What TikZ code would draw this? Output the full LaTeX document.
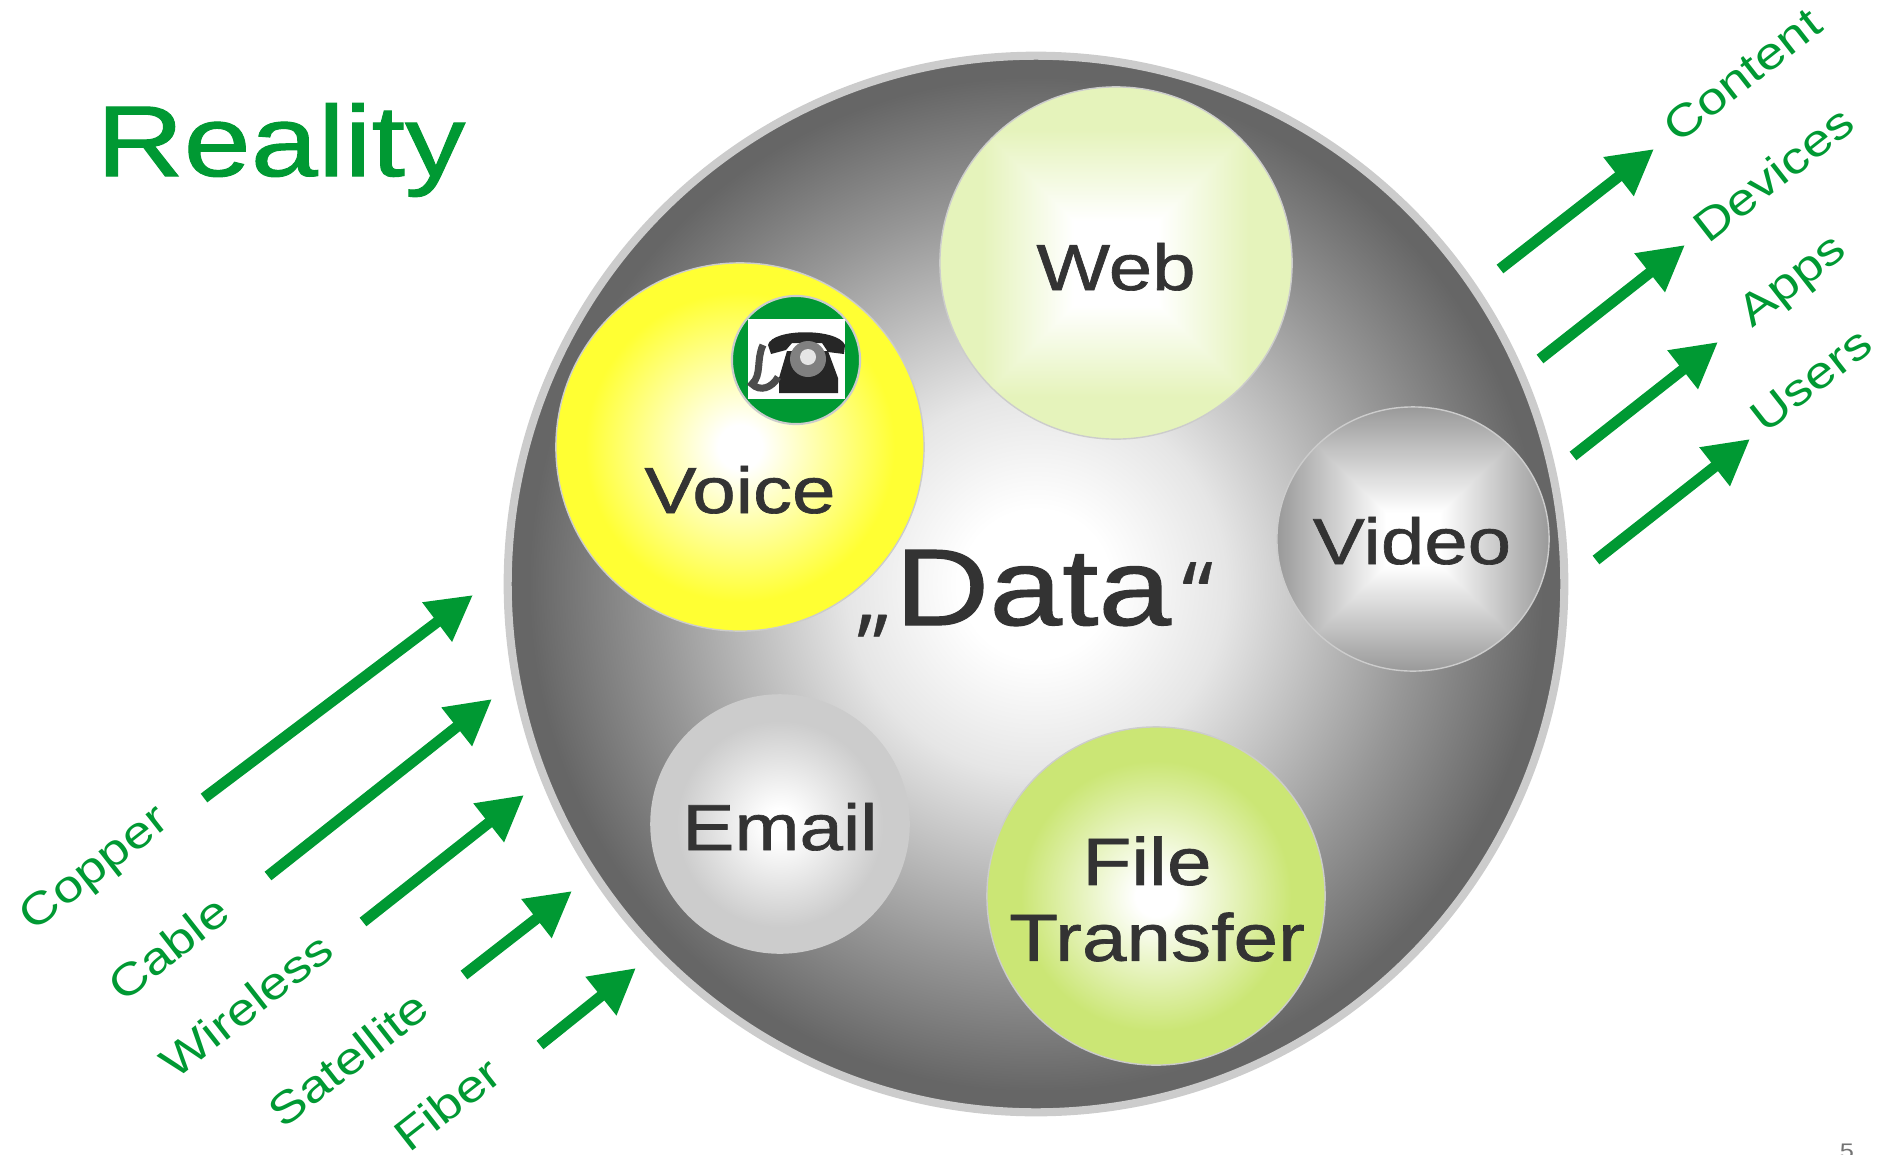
\documentclass[tikz,border=0pt]{standalone}
\usepackage{fontspec}
\usetikzlibrary{arrows.meta,shapes.geometric}
\setmainfont[FakeStretch=1.2]{Liberation Sans}
\newfontfamily\labelfont[FakeStretch=1.2,FakeBold=1]{Liberation Sans}
\newfontfamily\quotefont[FakeBold=0.5]{Open Sans}

\definecolor{flowgreen}{HTML}{009933}
\definecolor{inktext}{HTML}{333333}
\definecolor{rimgrey}{HTML}{CCCCCC}
\definecolor{webgreen}{HTML}{E5F3BB}
\definecolor{filegreen}{HTML}{CBE675}
\definecolor{voiceyellow}{HTML}{FFFF33}

% the path fills the inner 50bp of a shading
\pgfdeclarefunctionalshading{webshade}{\pgfpoint{-50bp}{-50bp}}{\pgfpoint{50bp}{50bp}}{}{
  abs exch abs 2 copy lt {exch} if pop
  6 sub 13 div dup 1 gt {pop 1} if dup 0 lt {pop 0} if
  dup 0.102 mul 1 exch sub exch dup 0.047 mul 1 exch sub exch 0.267 mul 1 exch sub}
\pgfdeclarefunctionalshading{videoshade}{\pgfpoint{-50bp}{-50bp}}{\pgfpoint{50bp}{50bp}}{}{
  abs exch abs 2 copy lt {exch} if pop
  5 sub 20 div dup 1 gt {pop 1} if dup 0 lt {pop 0} if
  0.4 mul 1 exch sub dup dup}
\pgfdeclareradialshading{voiceshade}{\pgfpointorigin}{color(0bp)=(white); color(3bp)=(white); color(21bp)=(voiceyellow); color(50bp)=(voiceyellow)}
\pgfdeclareradialshading{emailshade}{\pgfpointorigin}{color(0bp)=(white); color(3bp)=(white); color(20bp)=(black!20); color(50bp)=(black!20)}
\pgfdeclareradialshading{fileshade}{\pgfpointorigin}{color(0bp)=(white); color(3bp)=(white); color(20bp)=(filegreen); color(50bp)=(filegreen)}
\pgfdeclareradialshading{datashade}{\pgfpointorigin}{color(0bp)=(white); color(3.5bp)=(white); color(9bp)=(black!10); color(12.5bp)=(black!22); color(18bp)=(black!41); color(24bp)=(black!60); color(50bp)=(black!60)}

\tikzset{
 bubble/.style={circle,draw=rimgrey,line width=0.4pt,inner sep=0pt},
 bubbletext/.style={anchor=base,text=inktext,font=\labelfont\fontsize{18.5}{21.6}\selectfont,align=center},
 flow/.style={draw=flowgreen,line width=3.1pt,-{Triangle[length=12.8pt,width=13.2pt]}},
 flowtext/.style={text=flowgreen,rotate=38,font=\fontsize{12.6}{15}\selectfont,inner sep=0pt}
}

\begin{document}
\begin{tikzpicture}[x=0.01cm,y=-0.01cm]
 \useasboundingbox (0,0) rectangle (1881,1154);

 % the big disc and what sits on it
 \node[circle,draw=rimgrey,line width=2.3pt,inner sep=0pt,minimum size=10.56cm,shading=datashade] (data) at (1036,584) {};
 \node[bubble,minimum size=3.52cm,shading=webshade] (web) at (1116,263) {};
 \node[bubble,minimum size=3.68cm,shading=voiceshade] (voice) at (740,447) {};
 \node[bubble,shape=ellipse,minimum width=2.72cm,minimum height=2.64cm,shading=videoshade] (video) at (1413,539) {};
 \node[bubble,minimum size=2.58cm,shading=emailshade] (email) at (780,824) {};
 \node[bubble,minimum size=3.38cm,shading=fileshade] (file) at (1156,896) {};

 \node[bubbletext] (weblabel) at (1116,290) {Web};
 \node[bubbletext] (voicelabel) at (740,513) {Voice};
 \node[bubbletext] (videolabel) at (1412,564) {Video};
 \node[bubbletext] (emaillabel) at (780,850) {Email};
 \node[bubbletext,anchor=center,font=\labelfont\fontsize{19}{21.6}\selectfont] (filelabel) at (1157,899) {File\hspace*{0.3em}\\Transfer};
 \node[anchor=base,text=inktext,font=\labelfont\fontsize{31}{36}\selectfont] (datalabel) at (1035,625) {{\quotefont\fontsize{25}{30}\selectfont „}\hspace{0.02em}Data\hspace{0.1em}{\quotefont\fontsize{25}{30}\selectfont “}};

 % telephone badge
 \node[circle,draw=rimgrey,line width=0.6pt,fill=flowgreen,inner sep=0pt,minimum size=1.28cm] (badge) at (796,360) {};
 \fill[white] (748,319) rectangle (845,399);
 \fill[black!85] (768,345) .. controls (772,328) and (838,328) .. (845,345) -- (844,354) -- (828,352) -- (822,343) -- (792,343) -- (786,350) -- (771,354) -- cycle;
 \fill[black!85] (787,351) -- (828,351) -- (838,378) -- (838,393) -- (779,393) -- (779,378) -- cycle;
 \fill[black!50] (808,359) circle (18);
 \fill[black!10] (808,357) circle (8);
 \draw[black!70,line width=2pt] (763,345) .. controls (756,360) and (762,375) .. (752,384) .. controls (760,392) and (772,388) .. (778,377);

 % big title and page number
 \node[anchor=base,text=flowgreen,font=\labelfont\fontsize{28.6}{34}\selectfont] (title) at (281,176) {Reality};
 \node[anchor=base,text=black!55,font=\fontsize{6}{7}\selectfont] (pagenum) at (1847,1158) {5};

 % flows in and out
 \foreach \name/\xa/\ya/\xb/\yb/\xc/\yc/\txt in {
   copper/204/798/473/595/96/870/Copper,
   cable/268/876/492/699/168/948/Cable,
   wireless/363/922/524/795/246/1005/Wireless,
   satellite/464/975/572/891/348/1059/Satellite,
   fiber/540/1045/636/968/447/1104/Fiber,
   content/1500/269/1654/149/1742/75/Content,
   devices/1540/359/1685/245/1773/174/Devices,
   apps/1573/456/1718/342/1794/283/Apps,
   users/1596/560/1750/439/1811/380/Users}
 {
  \coordinate (\name start) at (\xa,\ya);
  \coordinate (\name end) at (\xb,\yb);
  \node[flowtext] (\name) at (\xc,\yc) {\txt};
  \draw[flow] (\name start) -- (\name end);
 }
\end{tikzpicture}
\end{document}
